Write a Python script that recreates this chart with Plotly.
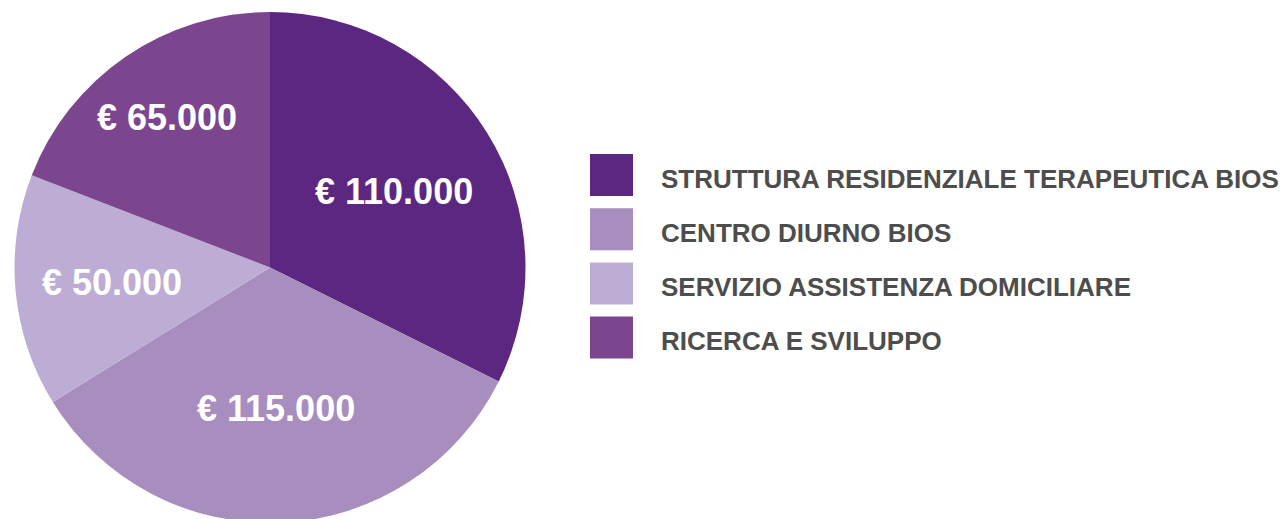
import math
import plotly.graph_objects as go

categories = ["STRUTTURA RESIDENZIALE TERAPEUTICA BIOS", "CENTRO DIURNO BIOS",
              "SERVIZIO ASSISTENZA DOMICILIARE", "RICERCA E SVILUPPO"]
values = [110000, 115000, 50000, 65000]
colors = ["#5B2780", "#A78EBE", "#BDADD4", "#7B468E"]
label_radius_frac = [0.57, 0.55, 0.62, 0.715]  # style: radial placement of value labels

W, H = 1280, 524  # slightly taller than the 519 viewport: pie bottom is cut like the reference
FONT = "Liberation Sans, Arial, sans-serif"
labels_txt = ["€ " + f"{v:,}".replace(",", ".") for v in values]

# pie geometry (figure pixels)
cx, cy, r = 270, 267.5, 255.5

fig = go.Figure(go.Pie(
    labels=categories, values=values, text=labels_txt,
    textinfo="none", sort=False, direction="clockwise", rotation=0,
    marker=dict(colors=colors, line=dict(width=0)),
    domain=dict(x=[(cx - r) / W, (cx + r) / W],
                y=[max(0, (H - cy - r) / H), (H - cy + r) / H]),
    showlegend=False, hoverinfo="label+text",
))

shapes, annotations = [], []

# value labels at slice mid-angles
total = sum(values)
cum = 0
lab_size = 36
for v, txt, f in zip(values, labels_txt, label_radius_frac):
    a = 2 * math.pi * (cum + v / 2) / total
    cum += v
    px = cx + f * r * math.sin(a)
    py = cy - f * r * math.cos(a) + 0.5
    annotations.append(dict(text=txt, xref="paper", yref="paper", x=px / W, y=(H - py) / H,
                            xanchor="center", yanchor="middle", showarrow=False,
                            font=dict(family=FONT, size=lab_size, color="white", weight="bold")))

# custom legend
lx0, ly0, step, sq = 590, 175, 54.2, 42
leg_size = 26
for i, (cat, col) in enumerate(zip(categories, colors)):
    yc = ly0 + i * step
    shapes.append(dict(type="rect", xref="paper", yref="paper",
                       x0=lx0 / W, x1=(lx0 + 43) / W,
                       y0=(H - yc - sq / 2) / H, y1=(H - yc + sq / 2) / H,
                       fillcolor=col, line=dict(width=0)))
    ty = yc + 3.5
    annotations.append(dict(text=cat, xref="paper", yref="paper", x=659 / W,
                            y=(H - ty) / H,
                            xanchor="left", yanchor="middle", showarrow=False,
                            font=dict(family=FONT, size=leg_size, color="#4D4D4D", weight="bold")))

fig.update_layout(width=W, height=H, margin=dict(l=0, r=0, t=0, b=0),
                  paper_bgcolor="white", plot_bgcolor="white",
                  shapes=shapes, annotations=annotations)
fig.write_html("out.html", config={"displayModeBar": False},
               post_script="document.body.style.margin='0';document.body.style.overflow='hidden';")
